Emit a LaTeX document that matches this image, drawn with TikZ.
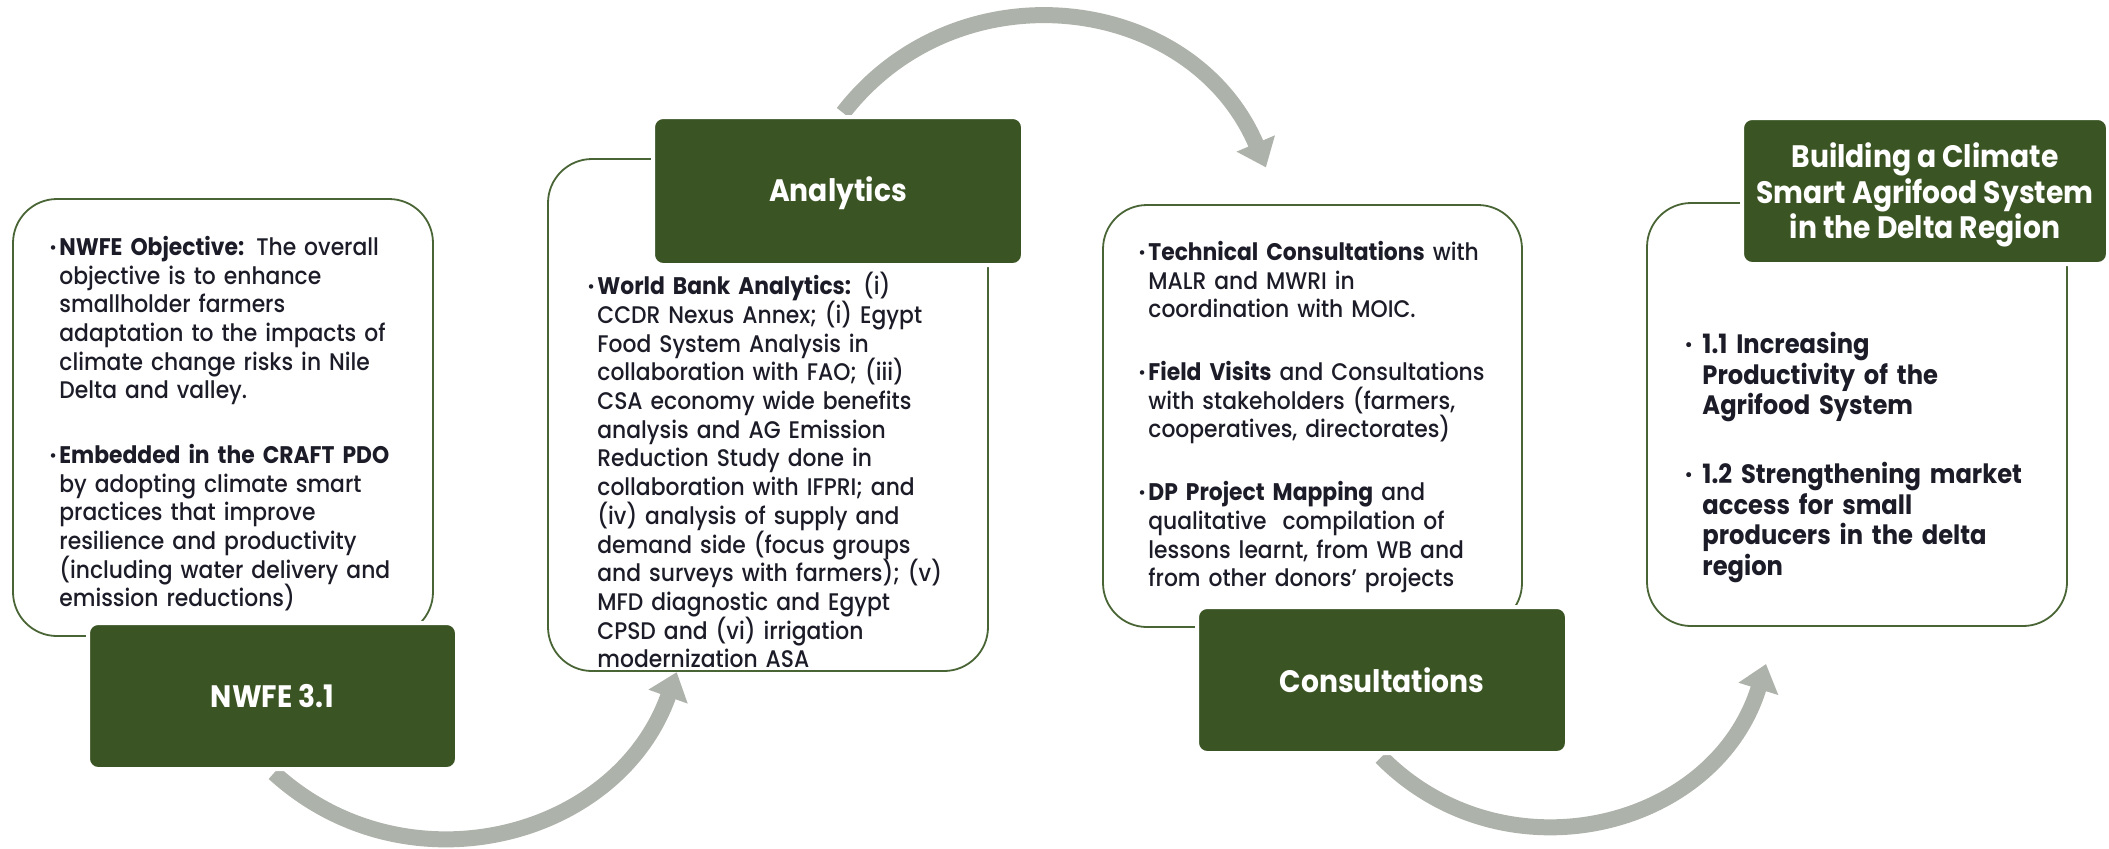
\documentclass[tikz,border=0pt]{standalone}
\usepackage{fontspec}
\setmainfont{Poppins}[UprightFont=* Medium, BoldFont=* Bold, FakeStretch=0.91]
\usetikzlibrary{arrows.meta}
\definecolor{dgreen}{HTML}{3B5424}
\definecolor{boxline}{HTML}{4A6535}
\definecolor{arrowgray}{HTML}{ADB2AA}
\definecolor{ink}{HTML}{1C1C28}
\newcommand{\mybody}{\fontsize{12}{14.35}\selectfont\lineskiplimit=-20pt\lineskip=0pt}
\newcommand{\mybodyb}{\fontsize{13.3}{15.35}\selectfont\bfseries\lineskiplimit=-20pt\lineskip=0pt}
\newcommand{\mytitle}{\fontsize{15.5}{18}\selectfont\bfseries}
\newcommand{\mytitleb}{\fontsize{15.5}{17.75}\selectfont\bfseries\lineskiplimit=-20pt\lineskip=0pt}
\newcommand{\bul}{\strut\llap{\textbf{·}\hspace{1.5pt}}}
\newcommand{\bulb}{\strut\llap{·\hspace{5pt}}}
\tikzset{
  wbox/.style={draw=boxline, line width=0.9pt, rounded corners=22pt, fill=white, inner sep=0pt},
  gbox/.style={fill=dgreen, draw=white, line width=2pt, rounded corners=5pt, text=white, inner sep=0pt, align=center},
  body/.style={anchor=north west, inner sep=0pt, align=left, text width=220pt, text=ink},
  flow/.style={line width=8pt, draw=arrowgray, -{Triangle[width=20pt,length=13pt]}}
}
\begin{document}
\begin{tikzpicture}[x=0.5pt,y=-0.5pt]
\useasboundingbox (0,0) rectangle (2109,848);

% arrows (behind the boxes)
\coordinate (a1s) at (274,773);
\coordinate (a1e) at (676.7,672.1);
\coordinate (a2s) at (843.1,112.9);
\coordinate (a2e) at (1265.9,167.4);
\coordinate (a3s) at (1381.2,757.1);
\coordinate (a3e) at (1766,664);
\draw[flow] (a1s) .. controls (405.5,893.1) and (617.3,840) .. (a1e);
\draw[flow] (a2s) .. controls (958.4,-36.3) and (1192.2,-6.2) .. (a2e);
\draw[flow] (a3s) .. controls (1503.9,881.1) and (1714.7,830.3) .. (a3e);

% white boxes
\node[wbox, minimum width=210pt, minimum height=218.5pt] (W1) at (223,417.5) {};
\node[wbox, minimum width=220pt, minimum height=256pt] (W2) at (768,415) {};
\node[wbox, minimum width=209.5pt, minimum height=211pt] (W3) at (1312.5,416) {};
\node[wbox, minimum width=210pt, minimum height=211.5pt] (W4) at (1857,414.5) {};

% green boxes
\node[gbox, minimum width=184.5pt, minimum height=73pt, font=\mytitle] (G1) at (272.5,696) {NWFE 3.1};
\node[gbox, minimum width=185pt, minimum height=74pt, font=\mytitle, text height=11pt, text depth=1pt] (G2) at (838,191) {Analytics};
\node[gbox, minimum width=185pt, minimum height=73pt, font=\mytitle] (G3) at (1382,680) {Consultations};
\node[gbox, minimum width=183pt, minimum height=73pt] (G4) at (1925,191) {};
\node[text=white, align=center, inner sep=0pt, font=\mytitleb] (G4t) at (1925,195) {Building a Climate\\Smart Agrifood System\\in the Delta Region};

% texts
\node[body, font=\mybody] (T1) at (59,234.9) {\bul\textbf{NWFE Objective:} The overall\\
objective is to enhance\\
smallholder farmers\\
adaptation to the impacts of\\
climate change risks in Nile\\
Delta and valley.\\[17.9pt]
\bul\textbf{Embedded in the CRAFT PDO}\\
by adopting climate smart\\
practices that improve\\
resilience and productivity\\
(including water delivery and\\
emission reductions)};

\node[body, font=\mybody] (T2) at (597,271.9) {\bul\textbf{World Bank Analytics:} (i)\\
CCDR Nexus Annex; (i) Egypt\\
Food System Analysis in\\
collaboration with FAO; (iii)\\
CSA economy wide benefits\\
analysis and AG Emission\\
Reduction Study done in\\
collaboration with IFPRI; and\\
(iv) analysis of supply and\\
demand side (focus groups\\
and surveys with farmers); (v)\\
MFD diagnostic and Egypt\\
CPSD and (vi) irrigation\\
modernization ASA};

\node[body, font=\mybody] (T3) at (1148,239.9) {\bul\textbf{Technical Consultations} with\\
MALR and MWRI in\\
coordination with MOIC.\\[17pt]
\bul\textbf{Field Visits} and Consultations\\
with stakeholders (farmers,\\
cooperatives, directorates)\\[17pt]
\bul\textbf{DP Project Mapping} and\\
qualitative\ \ compilation of\\
lessons learnt, from WB and\\
from other donors’ projects};

\node[body, font=\mybodyb] (T4) at (1702,331.5) {\bulb 1.1 Increasing\\
Productivity of the\\
Agrifood System\\[18.9pt]
\bulb 1.2 Strengthening market\\
access for small\\
producers in the delta\\
region};
\end{tikzpicture}
\end{document}
